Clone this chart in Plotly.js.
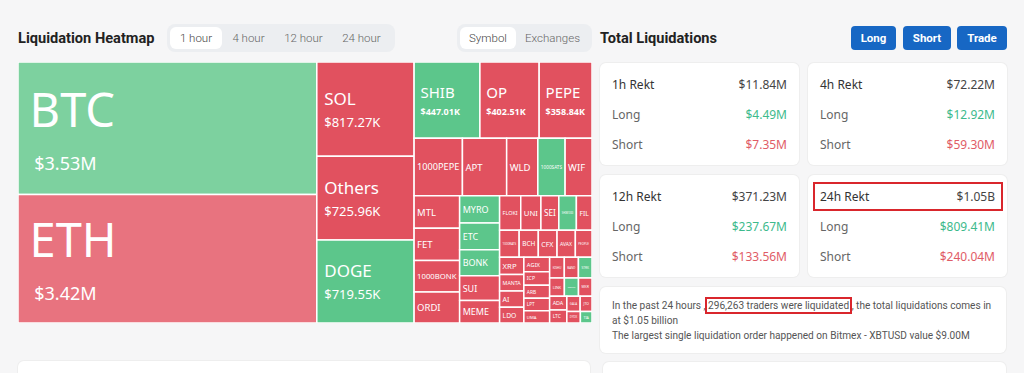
<!DOCTYPE html>
<html><head><meta charset="utf-8">
<script src="https://cdn.plot.ly/plotly-3.0.1.min.js"></script>
<style>
html,body{margin:0;padding:0}
body{width:1024px;height:373px;background:#f6f6f7;font-family:"Noto Sans",Roboto,sans-serif;position:relative;overflow:hidden;color:#555}
.abs{position:absolute}
.h{font-family:Roboto,"Noto Sans",sans-serif;font-weight:700;font-size:14.6px;color:#222;line-height:20px}
.tabs{background:#eceef1;border-radius:8px;height:28px;display:flex;align-items:center;padding:0 3px;box-sizing:border-box}
.tab{font-family:Roboto,sans-serif;font-size:11.5px;color:#666;height:22px;line-height:22px;text-align:center;border-radius:6px;font-weight:300}
.tab.on{background:#fff;color:#444}
.btn{font-family:Roboto,sans-serif;background:#1767c4;color:#fff;font-weight:700;font-size:11.5px;height:24px;line-height:24px;text-align:center;border-radius:4px}
.card{background:#fff;border-radius:6px;box-shadow:0 0 0 1px #eeeeee}
.row{position:absolute;left:12px;right:12px;display:flex;justify-content:space-between;font-size:12px;line-height:16px}
.row .l{color:#666}
.row.t .l{color:#333}
.row.t .v{color:#444}
.g{color:#3dba8c}
.r{color:#df5c66}
.hl{position:absolute;border:2px solid #d9262c;box-sizing:border-box}
.note{font-family:Roboto,sans-serif;font-size:10.1px;line-height:15px;color:#555;white-space:nowrap}
</style></head><body>
<div id="chrome"></div>
<div id="heat" class="abs" style="left:18px;top:62px;width:574px;height:261px"></div>
<script>
// ---------- data ----------
const symbols = ['BTC','ETH','SOL','Others','DOGE','SHIB','OP','PEPE','1000PEPE','APT','WLD','1000SATS','WIF',
  'MTL','FET','1000BONK','ORDI','MYRO','ETC','BONK','SUI','MEME','FLOKI','UNI','SEI','SHIB1000',
  'FIL','1000RATS','BCH','CFX','AVAX','PEOPLE','XRP','MANTA','AI','LDO','AGIX','ICP','ARB','LPT','UMA',
  'KISHU','BAND','STRK','LINK','1000LUNC','MKR','ADA','LTC','GALA','JTO','DYDX','TIA'];
const amountsUSD = [3530000,3420000,817270,725960,719550,447010,402510,358840,248000,227000,160000,140000,138000,
  132000,130000,128000,126000,97000,95000,93000,88000,80000,65000,62000,55000,54000,
  48000,47000,46000,45000,44000,40000,37000,36000,35000,34000,33000,31000,30000,29000,28000,
  27000,26000,25000,24000,23000,22000,21000,20000,18000,16000,14000,12000];
const direction = ['up','down','down','down','up','up','down','down','down','down','down','up','down',
  'down','down','down','down','up','up','up','down','down','down','down','down','up',
  'down','down','down','down','down','down','down','down','down','down','down','down','down','down','down',
  'down','down','up','down','up','down','down','down','down','down','down','up'];

const timeTabs = ['1 hour','4 hour','12 hour','24 hour'];
const viewTabs = ['Symbol','Exchanges'];
const actions = ['Long','Short','Trade'];
const periods = ['1h Rekt','4h Rekt','12h Rekt','24h Rekt'];
const totalRekt = ['$11.84M','$72.22M','$371.23M','$1.05B'];
const longRekt = ['$4.49M','$12.92M','$237.67M','$809.41M'];
const shortRekt = ['$7.35M','$59.30M','$133.56M','$240.04M'];
const tradersLiquidated = '296,263';
const totalText = '$1.05 billion';
const largestOrder = {exchange:'Bitmex', symbol:'XBTUSD', value:'$9.00M'};

// ---------- chrome (html) ----------
function fmt(v){return v>=1e6?'$'+(v/1e6).toFixed(2)+'M':'$'+(v/1e3).toFixed(2)+'K';}
let html='';
html+='<div class="abs h" style="left:18px;top:28px">Liquidation Heatmap</div>';
html+='<div class="abs tabs" style="left:167px;top:24px;width:228px">';
const tw=[52,53,57,59];
timeTabs.forEach((t,i)=>{html+='<div class="tab'+(i===0?' on':'')+'" style="width:'+tw[i]+'px">'+t+'</div>';});
html+='</div>';
html+='<div class="abs tabs" style="left:457px;top:24px;width:135px">';
const vw=[56,73];
viewTabs.forEach((t,i)=>{html+='<div class="tab'+(i===0?' on':'')+'" style="width:'+vw[i]+'px">'+t+'</div>';});
html+='</div>';
html+='<div class="abs h" style="left:600px;top:28px">Total Liquidations</div>';
const bx=[851,903,957], bw=[45,48,50];
actions.forEach((a,i)=>{html+='<div class="abs btn" style="left:'+bx[i]+'px;top:26px;width:'+bw[i]+'px">'+a+'</div>';});
const cx=[600,808,600,808], cy=[63,63,175,175];
periods.forEach((p,i)=>{
  html+='<div class="abs card" style="left:'+cx[i]+'px;top:'+cy[i]+'px;width:199px;height:102px">';
  html+='<div class="row t" style="top:14px"><span class="l">'+p+'</span><span class="v">'+totalRekt[i]+'</span></div>';
  html+='<div class="row" style="top:44px"><span class="l">Long</span><span class="g">'+longRekt[i]+'</span></div>';
  html+='<div class="row" style="top:74px"><span class="l">Short</span><span class="r">'+shortRekt[i]+'</span></div>';
  html+='</div>';
});
html+='<div class="hl" style="left:813px;top:182px;width:190px;height:29px"></div>';
html+='<div class="abs card" style="left:600px;top:287px;width:406px;height:66px"></div>';
html+='<div class="abs note" style="left:612px;top:298px">In the past 24 hours , <span id="tl">'+tradersLiquidated+' traders were liquidated</span> , the total liquidations comes in<br>at '+totalText+'<br>The largest single liquidation order happened on '+largestOrder.exchange+' - '+largestOrder.symbol+' value '+largestOrder.value+'</div>';
html+='<div class="abs card" style="left:18px;top:361px;width:572px;height:30px"></div>';
html+='<div class="abs card" style="left:603px;top:362px;width:403px;height:30px"></div>';
document.getElementById('chrome').innerHTML=html;
const tl=document.getElementById('tl');
tl.style.outline='2px solid #d9262c';tl.style.outlineOffset='1px';

// ---------- treemap ----------
const colors = symbols.map((s,i)=>{
  const up = direction[i]==='up';
  if(amountsUSD[i]>=1e6) return up?'#7dd19f':'#e8737f';
  return up?'#5cc68b':'#e1515f';
});
const texts = symbols.map((s,i)=>{
  const v=amountsUSD[i];
  if(v>=1e6) return '&nbsp;<span style="font-size:47px">'+s+'</span><br>&nbsp;<span style="font-size:18px">&nbsp;'+fmt(v)+'</span>';
  if(v>=7e5) return '&nbsp;'+s+'<br>&nbsp;<span style="font-size:13px">'+fmt(v)+'</span>';
  if(v>=3e5) return '&nbsp;<span style="font-size:15px">'+s+'</span><br>&nbsp;<span style="font-size:9px;font-weight:bold">'+fmt(v)+'</span>';
  return s;
});
const sizes = amountsUSD.map(v=> v>=1e6?33: v>=7e5?17: v>=3e5?13: v>=1e5?9.5: 9);
Plotly.newPlot('heat',[{
  type:'treemap',
  ids:symbols, labels:symbols, parents:symbols.map(()=>''), values:amountsUSD,
  text:texts, textinfo:'text', textposition:'middle left',
  textfont:{family:'"Noto Sans", Roboto, sans-serif', size:sizes, color:'#ffffff'},
  marker:{colors:colors, line:{color:'#ffffff', width:1.5}, pad:{t:0,l:0,r:0,b:0}},
  tiling:{packing:'squarify', squarifyratio:1.618, pad:0},
  pathbar:{visible:false}, root:{color:'rgba(0,0,0,0)'},
  sort:true, hoverinfo:'skip'
}],{
  margin:{l:0,r:0,t:0,b:0}, width:574, height:261,
  paper_bgcolor:'rgba(0,0,0,0)', plot_bgcolor:'rgba(0,0,0,0)'
},{displayModeBar:false, staticPlot:true});
</script>
</body></html>
